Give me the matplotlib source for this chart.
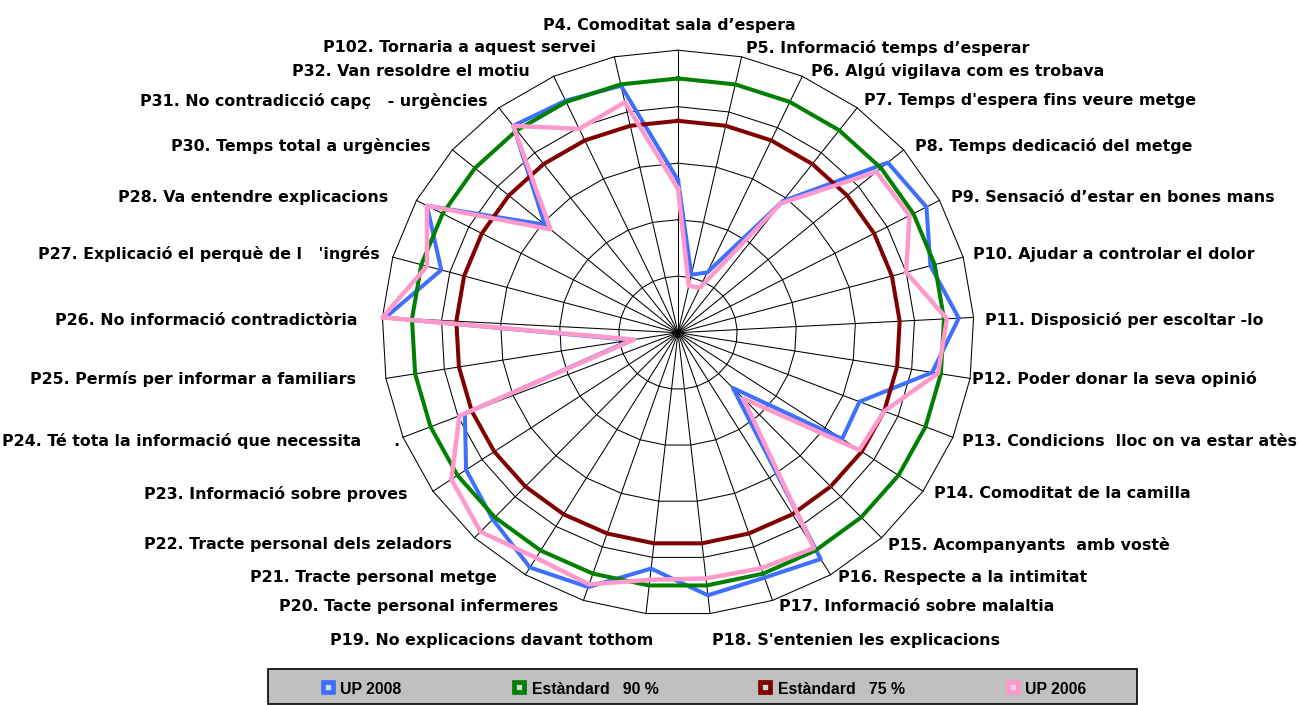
import numpy as np
import matplotlib
matplotlib.use("Agg")
import matplotlib.pyplot as plt
from matplotlib.lines import Line2D
from matplotlib.patches import Rectangle

# ---------------- data ----------------
categories = [
    "P4. Comoditat sala d\u2019espera",
    "P5. Informació temps d\u2019esperar",
    "P6. Algú vigilava com es trobava",
    "P7. Temps d'espera fins veure metge",
    "P8. Temps dedicació del metge",
    "P9. Sensació d\u2019estar en bones mans",
    "P10. Ajudar a controlar el dolor",
    "P11. Disposició per escoltar -lo",
    "P12. Poder donar la seva opinió",
    "P13. Condicions  lloc on va estar atès",
    "P14. Comoditat de la camilla",
    "P15. Acompanyants  amb vostè",
    "P16. Respecte a la intimitat",
    "P17. Informació sobre malaltia",
    "P18. S'entenien les explicacions",
    "P19. No explicacions davant tothom",
    "P20. Tacte personal infermeres",
    "P21. Tracte personal metge",
    "P22. Tracte personal dels zeladors",
    "P23. Informació sobre proves",
    "P24. Té tota la informació que necessita      .",
    "P25. Permís per informar a familiars",
    "P26. No informació contradictòria",
    "P27. Explicació el perquè de l   'ingrés",
    "P28. Va entendre explicacions",
    "P30. Temps total a urgències",
    "P31. No contradicció capç   - urgències",
    "P32. Van resoldre el motiu",
    "P102. Tornaria a aquest servei",
]

up2008 = [54, 21, 23.5, 58.5, 93, 95, 88.5, 95, 87, 66, 67, 27, 93.5, 91.5,
          93.5, 84, 95, 97, 91, 86.5, 77.5, 16, 99, 83, 96, 59, 92, 90.5, 89.5]
up2006 = [51, 17, 17.5, 57.5, 88, 88.5, 80, 91, 89, 75, 74, 32, 89, 88,
          87.5, 88, 94, 93, 97, 92.5, 79.5, 15, 100, 88, 96, 56.5, 92, 79.5, 83.5]
standard_90 = 90
standard_75 = 75
ring_levels = [20, 40, 60, 80, 100]

series_names = ["UP 2008", "Estàndard   90 %", "Estàndard   75 %", "UP 2006"]

# ---------------- styles / layout ----------------
C_BLUE = "#3f6fff"
C_GREEN = "#008000"
C_RED = "#800000"
C_PINK = "#ff99cc"

W, H = 1300, 705
fig = plt.figure(figsize=(W / 100, H / 100), dpi=100)
fig.patch.set_facecolor("white")

# axes placed so that r=100 reaches the outer ring as in the reference
cx, cy = 678.0, 332.7
rx, ry = 296.0, 282.5
ax = fig.add_axes([(cx - rx) / W, (H - cy - ry) / H, 2 * rx / W, 2 * ry / H])
ax.set_xlim(-100, 100)
ax.set_ylim(-100, 100)
ax.axis("off")

n = len(categories)
theta = 2 * np.pi * np.arange(n) / n


def xy(vals):
    v = np.asarray(vals, dtype=float)
    x = v * np.sin(theta)
    y = v * np.cos(theta)
    return np.append(x, x[0]), np.append(y, y[0])


# grid rings (polygonal) and spokes
for lv in ring_levels:
    gx, gy = xy([lv] * n)
    ax.plot(gx, gy, color="black", lw=0.75, zorder=1, clip_on=False)
for t in theta:
    ax.plot([0, 100 * np.sin(t)], [0, 100 * np.cos(t)], color="black",
            lw=0.75, zorder=1, clip_on=False)

# series
bx, by = xy(up2008)
ax.plot(bx, by, color=C_BLUE, lw=2.9, zorder=3, clip_on=False)
gx, gy = xy([standard_90] * n)
ax.plot(gx, gy, color=C_GREEN, lw=2.9, zorder=4, clip_on=False)
rx_, ry_ = xy([standard_75] * n)
ax.plot(rx_, ry_, color=C_RED, lw=2.9, zorder=5, clip_on=False)
px, py = xy(up2006)
ax.plot(px, py, color=C_PINK, lw=3.2, zorder=6, clip_on=False)

# category labels: offsets in pixels from the outer vertex (x right, y down)
label_pad = [
    (-9, -25), (4, -9), (9, -5), (7, -7), (11, -4), (11, -3), (10, -3),
    (11, 3), (2, 1), (9, 4), (11, 2), (6, 7), (7, 3), (6, 6), (2, 27),
    (7, 27), (-25, 6), (-29, 3), (-23, 7), (-26, 3), (-3, 4), (-30, 1),
    (-25, 3), (-13, -3), (-28, -3), (-22, -4), (-11, -7), (-24, -5), (-18, -9),
]
label_font = dict(family="DejaVu Sans", weight="bold", size=11.45)
for k, lab in enumerate(categories):
    s = np.sin(theta[k])
    vx, vy = 100 * s, 100 * np.cos(theta[k])
    if k == 0:
        ha = "center"
    elif k <= 14:
        ha = "left"
    else:
        ha = "right"
    dx, dy = label_pad[k]
    ax.annotate(lab, (vx, vy), xytext=(dx * 0.72, -dy * 0.72),
                textcoords="offset points", ha=ha, va="center",
                annotation_clip=False, **label_font)

# legend (figure pixel layout)
def fx(x):
    return x / W


def fy(y):
    return 1 - y / H


fig.patches.append(Rectangle((fx(268), fy(704)), fx(1137) - fx(268),
                             fy(669) - fy(704), transform=fig.transFigure,
                             facecolor="#c0c0c0", edgecolor="black", lw=1.2,
                             zorder=0))
leg_colors = [C_BLUE, C_GREEN, C_RED, C_PINK]
leg_x = [328, 519, 765.5, 1012.5]
for name, col, lx in zip(series_names, leg_colors, leg_x):
    fig.add_artist(Line2D([fx(lx)], [fy(687)], transform=fig.transFigure,
                          marker="s", ms=7, mew=3.4, mec=col, mfc="#d8d8d8",
                          ls="none"))
    fig.text(fx(lx + 12.5), fy(693.5), name, ha="left", va="baseline",
             family="Liberation Sans", weight="bold", fontsize=11.4)

fig.savefig("out.png", dpi=100)
